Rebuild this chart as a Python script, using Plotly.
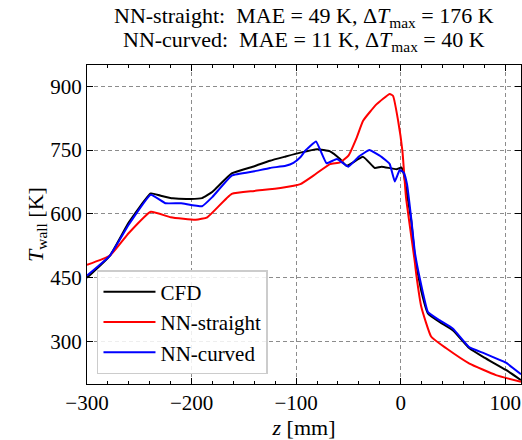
import plotly.graph_objects as go

# ---- data ----
z_cfd = [-300, -278, -260, -239, -230, -218, -201, -190, -180, -161.6, -140, -125, -110, -96, -80,
         -67.6, -58, -51.7, -36, -24.8, -18.4, -4, 0.6, 2.9, 7, 10, 13.5, 20, 26, 37, 50, 65.7, 80, 100.6, 115]
T_cfd = [450, 502, 580, 648, 643, 636.5, 635, 637, 652, 695, 712, 725, 735, 744, 752,
         747, 729, 713, 734, 708, 711, 705, 709, 694, 631, 585, 500, 415, 366, 346, 326, 284, 262, 233, 209]

z_straight = [-300, -278, -260, -239, -220, -196, -185, -161.6, -140, -115, -96, -83.5, -67.6, -58, -50,
              -42, -36, -23, -10.5, -7.3, -2.5, 1.6, 5, 13.3, 15, 19.7, 29.2, 43.5, 65.7, 91, 115]
T_straight = [480, 502, 555, 605, 592, 586, 592, 647, 654, 661, 670, 690, 717, 721, 737,
              780, 819, 858, 882, 877, 819, 748, 640, 490, 455, 381, 311, 284, 248, 221, 205]

z_curved = [-300, -278, -260, -239, -225, -210, -190, -180, -161.6, -140, -125, -110, -102.6, -96, -91.4,
            -81, -71, -61, -50, -40, -30, -18.4, -10.5, -5.7, -1, 2.9, 6, 10, 13.5, 18, 26, 37, 50,
            65.7, 80, 100.6, 115]
T_curved = [455, 502, 575, 645, 625, 625, 618, 640, 690, 700, 708, 713, 720, 733, 748,
            770, 719, 729, 711, 735, 750, 734, 717, 676, 703, 697, 670, 590, 510, 451, 369, 350, 330,
            286, 272, 250, 223]

x_ticks = [-300, -200, -100, 0, 100]
y_ticks = [300, 450, 600, 750, 900]

title_lines = [
    "NN-straight:  MAE = 49 K, Δ<i>T</i><sub>max</sub> = 176 K",
    "NN-curved:  MAE = 11 K, Δ<i>T</i><sub>max</sub> = 40 K",
]

FONT = "Liberation Serif"
W, H = 522, 440
ML, MR, MT, MB = 87, 1, 65, 56
PH = H - MT - MB


def py_to_paper(py):
    return (H - MB - py) / PH


fig = go.Figure()
fig.add_trace(go.Scatter(x=z_cfd, y=T_cfd, mode="lines", name="CFD",
                         line=dict(color="black", width=2, shape="spline", smoothing=0.4)))
fig.add_trace(go.Scatter(x=z_straight, y=T_straight, mode="lines", name="NN-straight",
                         line=dict(color="#ff0000", width=2, shape="spline", smoothing=0.4)))
fig.add_trace(go.Scatter(x=z_curved, y=T_curved, mode="lines", name="NN-curved",
                         line=dict(color="#0000ff", width=2, shape="spline", smoothing=0.3)))

axis_common = dict(
    showline=True, linecolor="black", linewidth=1, mirror="allticks",
    ticks="inside", ticklen=6, tickcolor="black", tickwidth=1,
    showgrid=True, gridcolor="#8c8c8c", gridwidth=1, griddash="4px,3px",
    zeroline=False, automargin=False,
    tickfont=dict(family=FONT, size=21, color="black"),
)

fig.update_layout(
    width=W, height=H,
    margin=dict(l=ML, r=MR, t=MT, b=MB, autoexpand=False),
    paper_bgcolor="white", plot_bgcolor="white",
    font=dict(family=FONT, size=22, color="black"),
    showlegend=True,
    legend=dict(
        x=0.023, y=0.031, xanchor="left", yanchor="bottom",
        bgcolor="rgba(255,255,255,0.85)", bordercolor="#cccccc", borderwidth=1.5,
        font=dict(family=FONT, size=21, color="black"),
        itemwidth=52, tracegroupgap=0,
    ),
)

for py, txt in zip([17, 41], title_lines):
    fig.add_annotation(text=txt, xref="paper", yref="paper", x=0.5, y=py_to_paper(py),
                       xanchor="center", yanchor="middle", showarrow=False,
                       font=dict(family=FONT, size=22, color="black"))

fig.update_xaxes(
    range=[-300, 115], tickvals=x_ticks,
    minor=dict(ticks="inside", ticklen=3, tickcolor="black", dtick=20, tick0=0, showgrid=False),
    title=dict(text="<i>z</i> [mm]", font=dict(family=FONT, size=22), standoff=7),
    **axis_common,
)
fig.update_yaxes(
    range=[200, 950], tickvals=y_ticks,
    title=dict(text="<i>T</i><sub>wall</sub> [K]", font=dict(family=FONT, size=22), standoff=0),
    **axis_common,
)

fig.write_html("out.html", config={"displayModeBar": False},
               post_script="document.body.style.margin='0';document.body.style.overflow='hidden';")
